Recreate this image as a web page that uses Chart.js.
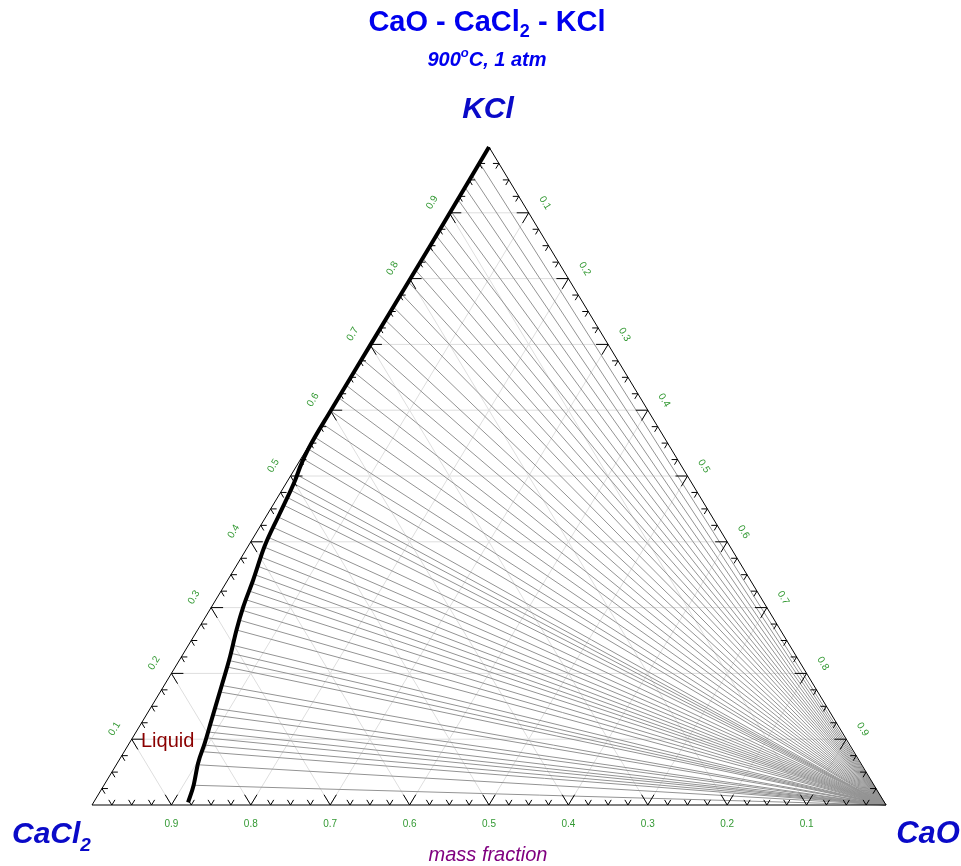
<!DOCTYPE html>
<html>
<head>
<meta charset="utf-8">
<script src="https://cdn.jsdelivr.net/npm/chart.js@4.4.1/dist/chart.umd.min.js"></script>
<style>
  html, body { margin: 0; padding: 0; background: #fff; }
  canvas { display: block; }
</style>
</head>
<body>
<canvas id="chart" width="961" height="866"></canvas>
<script>
// axis ticks (mass fraction)
const tickValues = [0.1, 0.2, 0.3, 0.4, 0.5, 0.6, 0.7, 0.8, 0.9]
const tickLabels = ['0.1', '0.2', '0.3', '0.4', '0.5', '0.6', '0.7', '0.8', '0.9']

// liquidus: Liquid / Liquid + CaO boundary at 900 C
const liquidCaO = [0, 0.001, 0.001, 0.001, 0.002, 0.005, 0.009, 0.015, 0.021, 0.032, 0.040, 0.049, 0.061, 0.073, 0.086, 0.095, 0.102, 0.113, 0.119]
const liquidKCl = [1, 0.85, 0.70, 0.60, 0.54, 0.515, 0.494, 0.443, 0.392, 0.342, 0.301, 0.266, 0.226, 0.180, 0.129, 0.094, 0.063, 0.030, 0.004]

// tie lines: liquid end (the other end is pure CaO)
const tieCaO = [0, 0, 0, 0, 0, 0, 0,
  0.001, 0.001, 0.001, 0.001, 0.001, 0.001, 0.001, 0.001,
  0.001, 0.001, 0.001, 0.001, 0.001, 0.001, 0.001, 0.001,
  0.002, 0.003, 0.007, 0.009, 0.010, 0.011, 0.013, 0.015, 0.017, 0.018,
  0.021, 0.024, 0.027, 0.030, 0.033, 0.036, 0.038, 0.041, 0.045, 0.049,
  0.055, 0.058, 0.061, 0.064, 0.071, 0.074, 0.080, 0.083, 0.087, 0.090,
  0.093, 0.096, 0.099, 0.105, 0.113]
const tieKCl = [0.976, 0.957, 0.939, 0.921, 0.903, 0.884, 0.866,
  0.848, 0.831, 0.813, 0.795, 0.777, 0.757, 0.737, 0.717,
  0.698, 0.678, 0.658, 0.638, 0.619, 0.599, 0.579, 0.559,
  0.541, 0.526, 0.502, 0.489, 0.479, 0.468, 0.456, 0.438, 0.422, 0.407,
  0.392, 0.377, 0.363, 0.350, 0.337, 0.325, 0.312, 0.296, 0.281, 0.266,
  0.243, 0.231, 0.220, 0.210, 0.182, 0.172, 0.147, 0.137, 0.122, 0.111,
  0.102, 0.091, 0.081, 0.061, 0.030]

const FONT = '"Liberation Sans", Arial, sans-serif'

// ternary (CaO, KCl) -> x/y on a 0..1 frame; CaCl2 is the rest
function tern(cao, kcl) {
  return { x: cao + kcl / 2, y: kcl }
}

const datasets = [{
  data: liquidCaO.map((c, i) => tern(c, liquidKCl[i])),
  showLine: true,
  cubicInterpolationMode: 'monotone',
  borderColor: '#000',
  borderWidth: 4,
  borderJoinStyle: 'round',
  pointRadius: 0,
  clip: false
}]
tieCaO.forEach((c, i) => {
  datasets.push({
    data: [tern(c, tieKCl[i]), tern(1, 0)],
    showLine: true,
    borderColor: '#939393',
    borderWidth: 1,
    pointRadius: 0,
    clip: false
  })
})

function rich(ctx, parts, x, y, align) {
  let w = 0
  parts.forEach(p => { ctx.font = p.font; w += ctx.measureText(p.text).width })
  if (align === 'center') x -= w / 2
  ctx.textAlign = 'left'
  ctx.textBaseline = 'alphabetic'
  parts.forEach(p => {
    ctx.font = p.font
    ctx.fillText(p.text, x, y + (p.dy || 0))
    x += ctx.measureText(p.text).width
  })
}

const ternary = {
  id: 'ternary',
  beforeDatasetsDraw(chart) {
    const { ctx, scales } = chart
    const px = (c, k) => { const p = tern(c, k); return [scales.x.getPixelForValue(p.x), scales.y.getPixelForValue(p.y)] }
    const seg = (a, b) => { ctx.moveTo(a[0], a[1]); ctx.lineTo(b[0], b[1]) }
    ctx.save()
    ctx.strokeStyle = '#dedede'
    ctx.lineWidth = 1
    ctx.beginPath()
    tickValues.forEach(v => {
      seg(px(0, v), px(1 - v, v))       // const KCl
      seg(px(v, 0), px(v, 1 - v))       // const CaO
      seg(px(1 - v, 0), px(0, 1 - v))   // const CaCl2
    })
    ctx.stroke()
    ctx.restore()
  },
  afterDatasetsDraw(chart) {
    const { ctx, scales } = chart
    const px = (c, k) => { const p = tern(c, k); return [scales.x.getPixelForValue(p.x), scales.y.getPixelForValue(p.y)] }
    const A = px(0, 0), B = px(1, 0), C = px(0, 1)
    ctx.save()

    // frame
    ctx.strokeStyle = '#000'
    ctx.lineWidth = 1
    ctx.beginPath()
    ctx.moveTo(A[0], A[1]); ctx.lineTo(B[0], B[1]); ctx.lineTo(C[0], C[1]); ctx.closePath()
    ctx.stroke()

    // ticks, pointing along the grid directions
    const tick = (p, q, len) => {
      const dx = q[0] - p[0], dy = q[1] - p[1], d = Math.hypot(dx, dy)
      ctx.moveTo(p[0], p[1])
      ctx.lineTo(p[0] + dx / d * len, p[1] + dy / d * len)
    }
    ctx.beginPath()
    const dd = 0.05
    for (let i = 1; i < 40; i++) {
      const t = i / 40
      const len = i % 4 === 0 ? 12 : 6
      let p = px(t, 0)
      tick(p, px(t, dd), len); tick(p, px(t - dd, dd), len)
      p = px(0, t)
      tick(p, px(dd, t), len); tick(p, px(dd, t - dd), len)
      p = px(t, 1 - t)
      tick(p, px(t - dd, 1 - t), len); tick(p, px(t, 1 - t - dd), len)
    }
    ctx.stroke()

    // tick labels
    ctx.fillStyle = '#339933'
    ctx.font = '10px ' + FONT
    ctx.textAlign = 'center'
    ctx.textBaseline = 'middle'
    tickValues.forEach((v, i) => {
      const p = px(1 - v, 0)
      ctx.fillText(tickLabels[i], p[0], p[1] + 19)
    })
    const edgeLabel = (p, from, to, off, text) => {
      let ex = to[0] - from[0], ey = to[1] - from[1]
      const d = Math.hypot(ex, ey); ex /= d; ey /= d
      const nx = ey, ny = -ex
      ctx.save()
      ctx.translate(p[0] + nx * off, p[1] + ny * off)
      ctx.rotate(Math.atan2(ey, ex))
      ctx.fillText(text, 0, 0)
      ctx.restore()
    }
    tickValues.forEach((v, i) => {
      edgeLabel(px(0, v), A, C, 20, tickLabels[i])
      edgeLabel(px(v, 1 - v), C, B, 19, tickLabels[i])
    })

    // titles and labels
    ctx.fillStyle = '#0000ee'
    rich(ctx, [
      { text: 'CaO - CaCl', font: 'bold 29px ' + FONT },
      { text: '2', font: 'bold 18px ' + FONT, dy: 6 },
      { text: ' - KCl', font: 'bold 29px ' + FONT }
    ], 487, 31, 'center')
    rich(ctx, [
      { text: '900', font: 'italic bold 20px ' + FONT },
      { text: 'o', font: 'italic bold 13px ' + FONT, dy: -9 },
      { text: 'C, 1 atm', font: 'italic bold 20px ' + FONT }
    ], 487, 66, 'center')

    ctx.fillStyle = '#0a0ac8'
    rich(ctx, [{ text: 'KCl', font: 'italic bold 30px ' + FONT }], 488, 118, 'center')
    rich(ctx, [
      { text: 'CaCl', font: 'italic bold 30px ' + FONT },
      { text: '2', font: 'italic bold 19px ' + FONT, dy: 8 }
    ], 12, 843, 'left')
    rich(ctx, [{ text: 'CaO', font: 'italic bold 31px ' + FONT }], 928, 843, 'center')

    ctx.fillStyle = '#8b0000'
    rich(ctx, [{ text: 'Liquid', font: '20px ' + FONT }], 141, 747, 'left')

    ctx.fillStyle = '#800080'
    rich(ctx, [{ text: 'mass fraction', font: 'italic 20px ' + FONT }], 488, 861, 'center')

    ctx.restore()
  }
}

const chart = new Chart(document.getElementById('chart'), {
  type: 'scatter',
  data: { datasets },
  options: {
    responsive: false,
    animation: false,
    devicePixelRatio: 1,
    layout: { padding: { left: 92, right: 75, top: 147, bottom: 61 } },
    scales: {
      x: { type: 'linear', min: 0, max: 1, display: false },
      y: { type: 'linear', min: 0, max: 1, display: false }
    },
    plugins: {
      legend: { display: false },
      tooltip: { enabled: false }
    }
  },
  plugins: [ternary]
})
</script>
</body>
</html>
